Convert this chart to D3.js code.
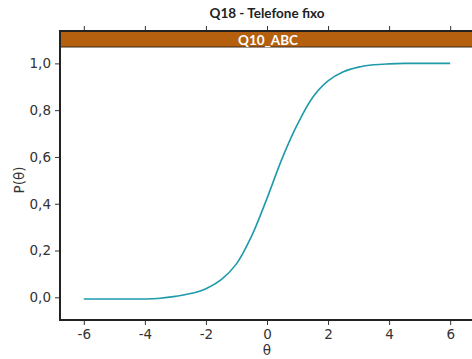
<!DOCTYPE html>
<html>
<head>
<meta charset="utf-8">
<script src="https://cdn.jsdelivr.net/npm/d3@7"></script>
<style>
  html, body { margin: 0; padding: 0; background: #fff; }
  svg { display: block; }
</style>
</head>
<body>
<svg id="chart" width="472" height="359"></svg>
<script>
// Item characteristic curve: probability of response as a function of theta
const theta = [-6, -5.5, -5, -4.5, -4, -3.5, -3, -2.5, -2, -1.5, -1, -0.5, 0, 0.5, 1, 1.5, 2, 2.5, 3, 3.5, 4, 4.5, 5, 5.5, 6];
const prob  = [-0.007, -0.007, -0.007, -0.007, -0.007, -0.004, 0.004, 0.016, 0.037, 0.076, 0.143, 0.263, 0.423, 0.595, 0.74, 0.855, 0.925, 0.964, 0.984, 0.994, 0.998, 1.0, 1.0, 1.0, 1.0];
const xTicks = [-6, -4, -2, 0, 2, 4, 6];
const yTicks = [0, 0.2, 0.4, 0.6, 0.8, 1.0];
const title = "Q18 - Telefone fixo";
const stripLabel = "Q10_ABC";

const svg = d3.select("#chart");
const pLeft = 60, pRight = 474, pTop = 31, pBottom = 320, stripH = 16;

const x = d3.scaleLinear().domain([-6.78, 6.78]).range([pLeft, pRight]);
const y = d3.scaleLinear().domain([-0.097, 1.07]).range([pBottom, pTop + stripH]);

const fmt = d => d3.format(".1f")(d).replace(".", ",");

// Title
svg.append("text")
  .attr("x", 267).attr("y", 17.5)
  .attr("text-anchor", "middle")
  .attr("font-family", "Lato")
  .attr("font-weight", "bold")
  .attr("font-size", 13.5)
  .attr("fill", "#222")
  .text(title);

// Facet strip
svg.append("rect")
  .attr("x", pLeft).attr("y", pTop)
  .attr("width", pRight - pLeft).attr("height", stripH)
  .attr("fill", "#B5600F");
svg.append("line")
  .attr("x1", pLeft).attr("x2", pRight)
  .attr("y1", pTop + stripH).attr("y2", pTop + stripH)
  .attr("stroke", "#3a2a1a").attr("stroke-width", 1);
svg.append("text")
  .attr("x", 268).attr("y", pTop + 13.5)
  .attr("text-anchor", "middle")
  .attr("font-family", "Lato")
  .attr("font-weight", "bold")
  .attr("font-size", 13.5)
  .attr("fill", "#fff")
  .text(stripLabel);

// Curve
const line = d3.line()
  .x((d, i) => x(theta[i]))
  .y(d => y(d))
  .curve(d3.curveCatmullRom.alpha(0.5));
svg.append("path")
  .datum(prob)
  .attr("d", line)
  .attr("fill", "none")
  .attr("stroke", "#1E9AAA")
  .attr("stroke-width", 1.6);

// Bottom axis
const xAxis = svg.append("g")
  .attr("transform", `translate(0,${pBottom})`)
  .call(d3.axisBottom(x).tickValues(xTicks).tickFormat(d => d).tickSizeOuter(0).tickSize(5).tickPadding(4));
// Top ticks (no labels)
const xTop = svg.append("g")
  .attr("transform", `translate(0,${pTop})`)
  .call(d3.axisTop(x).tickValues(xTicks).tickFormat("").tickSizeOuter(0).tickSize(5));
// Left axis
const yAxis = svg.append("g")
  .attr("transform", `translate(${pLeft},0)`)
  .call(d3.axisLeft(y).tickValues(yTicks).tickFormat(fmt).tickSizeOuter(0).tickSize(5).tickPadding(4));

[xAxis, xTop, yAxis].forEach(g => {
  g.select(".domain").remove();
  g.selectAll(".tick line").attr("stroke", "#333").attr("stroke-width", 1);
  g.selectAll(".tick text")
    .attr("font-family", "DejaVu Sans")
    .attr("font-size", 13.5)
    .attr("fill", "#333");
});

// Panel border
svg.append("path")
  .attr("d", `M${pRight},${pTop}H${pLeft}V${pBottom}H${pRight}`)
  .attr("fill", "none")
  .attr("stroke", "#222")
  .attr("stroke-width", 2);

// Axis titles
svg.append("text")
  .attr("x", 267).attr("y", 355)
  .attr("text-anchor", "middle")
  .attr("font-family", "DejaVu Sans")
  .attr("font-size", 13.5)
  .attr("fill", "#333")
  .text("θ");
svg.append("text")
  .attr("transform", "translate(24,180) rotate(-90)")
  .attr("text-anchor", "middle")
  .attr("font-family", "DejaVu Sans")
  .attr("font-size", 13.5)
  .attr("fill", "#333")
  .text("P(θ)");
</script>
</body>
</html>
